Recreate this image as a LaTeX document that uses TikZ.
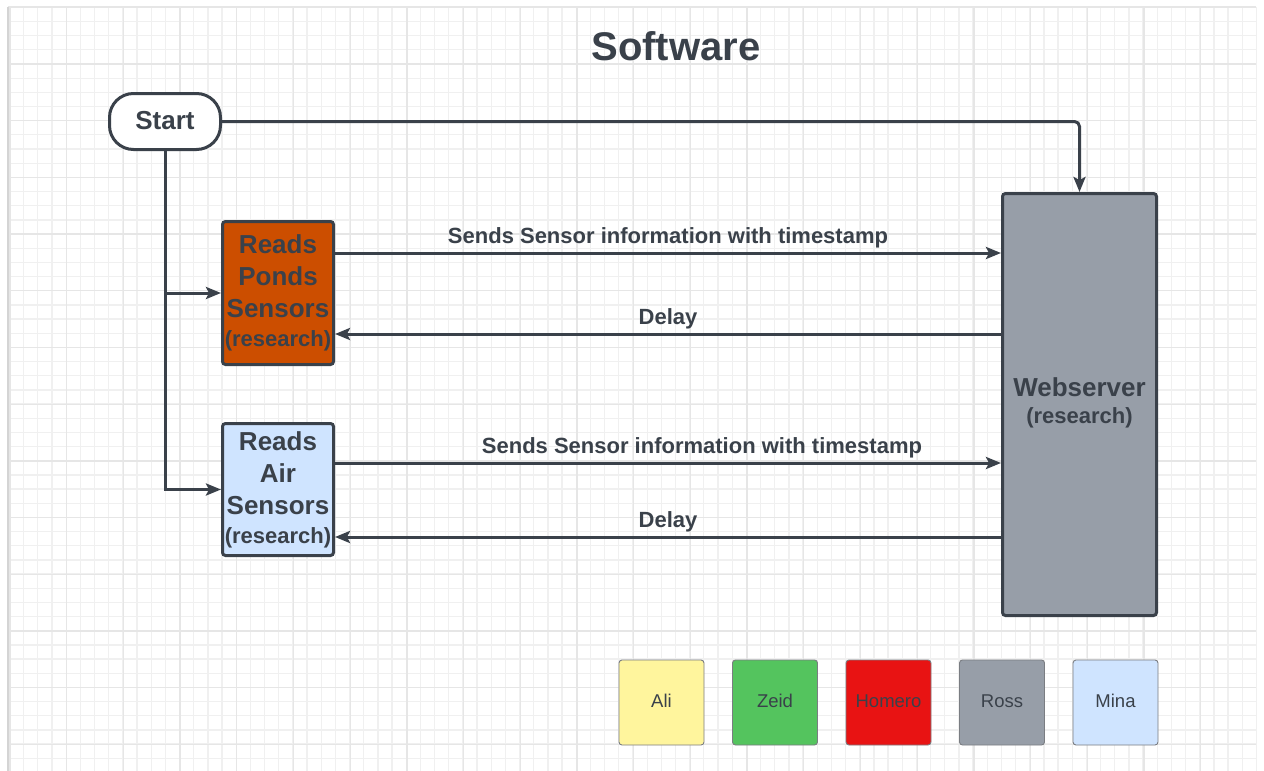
\documentclass[tikz,border=0pt]{standalone}
\usepackage{fontspec}
\setmainfont{Liberation Sans}
\usetikzlibrary{arrows.meta}
\definecolor{ink}{HTML}{3A414A}
\definecolor{gridminor}{HTML}{F0F0F0}
\definecolor{gridmajor}{HTML}{E6E6E6}
\definecolor{pondsfill}{HTML}{CC4E00}
\definecolor{airfill}{HTML}{CFE4FF}
\definecolor{webfill}{HTML}{979EA8}
\definecolor{alifill}{HTML}{FFF59D}
\definecolor{zeidfill}{HTML}{54C45E}
\definecolor{homerofill}{HTML}{E81313}
\definecolor{rossfill}{HTML}{979EA8}
\definecolor{minafill}{HTML}{CFE4FF}
\definecolor{legendborder}{HTML}{7A7D82}
\newcommand{\legtext}[1]{\raisebox{3pt}{#1}}
\tikzset{
  gminor/.style={draw=gridminor, line width=1.3pt},
  gmajor/.style={draw=gridmajor, line width=1.3pt},
  mainbox/.style={draw=ink, line width=3pt, rounded corners=3pt, text=ink,
    align=center, inner sep=2pt, font=\fontsize{26}{32}\selectfont\bfseries},
  startbox/.style={draw=ink, line width=3pt, rounded corners=24pt, fill=white, text=ink,
    minimum width=111pt, minimum height=56pt, font=\fontsize{26}{32}\selectfont\bfseries},
  legendbox/.style={draw=legendborder, line width=0.9pt, rounded corners=3pt, text=ink,
    minimum width=85pt, minimum height=85pt, font=\fontsize{18.5}{22}\selectfont},
  conn/.style={draw=ink, line width=3pt},
  arr/.style={conn, -{Stealth[length=15pt, width=12pt, inset=3pt]}},
  lbl/.style={text=ink, anchor=base, yshift=10pt, inner sep=0pt,
    font=\fontsize{22}{26}\selectfont\bfseries}
}
\begin{document}
\begin{tikzpicture}[x=1pt, y=-1pt]
\useasboundingbox[fill=white] (0,0) rectangle (1264,771);
% grid
\foreach \i in {0,...,88} \draw[gminor] ({9.5+14.17*\i},7) -- ({9.5+14.17*\i},771);
\foreach \i in {0,...,53} \draw[gminor] (8,{7.3+14.17*\i}) -- (1256,{7.3+14.17*\i});
\foreach \i in {-1,...,20} \draw[gmajor] ({66.7+56.7*\i},7) -- ({66.7+56.7*\i},771);
\foreach \i in {0,...,12} \draw[gmajor] (8,{64+56.7*\i}) -- (1256,{64+56.7*\i});
\draw[draw=gridmajor, line width=1.5pt] (8,7) -- (1256,7);
\draw[draw=gridmajor!92!black, line width=2.5pt] (8,7) -- (8,771);

% title
\node[text=ink, font=\fontsize{40}{48}\selectfont\bfseries] (title) at (676,46) {Software};

% nodes
\node[startbox] (start) at (165,121.5) {\raisebox{2pt}{Start}};
\node[mainbox, fill=pondsfill, minimum width=111pt, minimum height=143pt] (ponds) at (278,293)
  {Reads\\Ponds\\Sensors\\[-3pt]{\fontsize{22}{26}\selectfont (research)}};
\node[mainbox, fill=airfill, minimum width=111pt, minimum height=132pt] (air) at (278,489.5)
  {Reads\\Air\\Sensors\\[-3pt]{\fontsize{22}{26}\selectfont (research)}};
\node[mainbox, fill=webfill, minimum width=154pt, minimum height=422pt] (web) at (1079.5,404.5)
  {Webserver\\[-5pt]{\fontsize{22}{26}\selectfont (research)}\\[-24pt]};

% connectors
\draw[arr, rounded corners=5pt] (start.east) -| (web.north);
\draw[arr] (start.south) |- (air.west);
\draw[arr] (start.south |- ponds.west) -- (ponds.west);

\draw[arr] (ponds.east |- 0,253) -- node[lbl] {Sends Sensor information with timestamp} (web.west |- 0,253);
\draw[arr] (web.west |- 0,334) -- node[lbl] {Delay} (ponds.east |- 0,334);
\draw[arr] (air.east |- 0,463) -- node[lbl, pos=0.551] {Sends Sensor information with timestamp} (web.west |- 0,463);
\draw[arr] (web.west |- 0,537) -- node[lbl] {Delay} (air.east |- 0,537);

% legend
\node[legendbox, fill=alifill] (ali) at (661.5,702.5) {\legtext{Ali}};
\node[legendbox, fill=zeidfill] (zeid) at (775,702.5) {\legtext{Zeid}};
\node[legendbox, fill=homerofill] (homero) at (888.5,702.5) {\legtext{Homero}};
\node[legendbox, fill=rossfill] (ross) at (1002,702.5) {\legtext{Ross}};
\node[legendbox, fill=minafill] (mina) at (1115.5,702.5) {\legtext{Mina}};
\end{tikzpicture}
\end{document}
